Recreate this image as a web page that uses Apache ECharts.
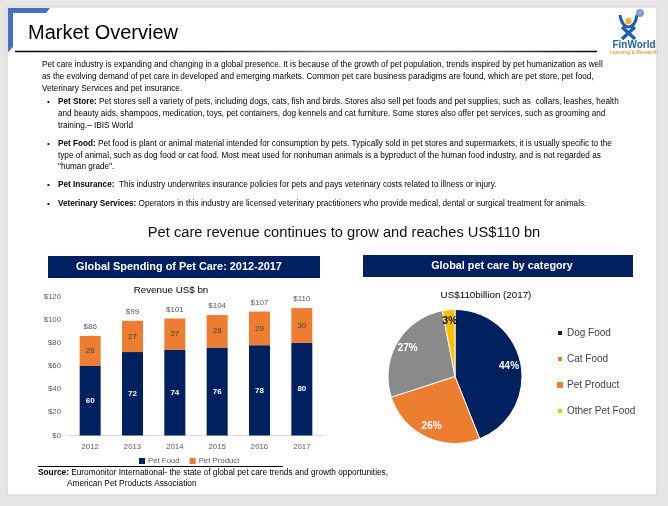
<!DOCTYPE html>
<html><head><meta charset="utf-8">
<script src="https://cdn.jsdelivr.net/npm/echarts@6/dist/echarts.min.js"></script>
<style>html,body{margin:0;padding:0;background:#e6e6e6;}#c{width:668px;height:506px;}</style>
</head><body><div id="c"></div>
<script>
// ---- data ----
const years = ['2012', '2013', '2014', '2015', '2016', '2017'];
const petFood = [60, 72, 74, 76, 78, 80];
const petProduct = [26, 27, 27, 28, 29, 30];
const totals = [86, 99, 101, 104, 107, 110];
const yMin = 0, yMax = 120, yStep = 20;
const pieCats = ['Dog Food', 'Cat Food', 'Pet Product', 'Other Pet Food'];
const pieShares = [44, 26, 27, 3];

const FONT = 'Liberation Sans';
const NAVY = '#002060', ORANGE = '#ED7D31', GRAY = '#8a8a8a', YELLOW = '#FFC000';
const pieColors = [NAVY, ORANGE, GRAY, YELLOW];
const pieLabelColors = ['#fff', '#fff', '#fff', '#000'];

const bodyLines = [
  [42, 65, 'Pet care industry is expanding and changing in a global presence. It is because of the growth of pet population, trends inspired by pet humanization as well'],
  [42, 77, 'as the evolving demand of pet care in developed and emerging markets. Common pet care business paradigms are found, which are pet store, pet food,'],
  [42, 89, 'Veterinary Services and pet insurance.'],
  [58, 102, '{b|Pet Store:} Pet stores sell a variety of pets, including dogs, cats, fish and birds. Stores also sell pet foods and pet supplies, such as  collars, leashes, health'],
  [58, 114, 'and beauty aids, shampoos, medication, toys, pet containers, dog kennels and cat furniture. Some stores also offer pet services, such as grooming and'],
  [58, 126, 'training.\u2013 IBIS World'],
  [58, 144, '{b|Pet Food:} Pet food is plant or animal material intended for consumption by pets. Typically sold in pet stores and supermarkets, it is usually specific to the'],
  [58, 155.5, 'type of animal, such as dog food or cat food. Most meat used for nonhuman animals is a byproduct of the human food industry, and is not regarded as'],
  [58, 167, '"human grade".'],
  [58, 185, '{b|Pet Insurance:}  This industry underwrites insurance policies for pets and pays veterinary costs related to illness or injury.'],
  [58, 204, '{b|Veterinary Services:} Operators in this industry are licensed veterinary practitioners who provide medical, dental or surgical treatment for animals.']
];
const bulletYs = [102, 144, 185, 204];

const FS = 8.2;
function txt(x, y, text, o) {
  o = o || {};
  return {
    type: 'text', x: x, y: y, silent: true, z: 10,
    style: Object.assign({
      text: text, fontFamily: FONT, fontSize: FS, fill: '#000',
      align: 'left', verticalAlign: 'middle',
      rich: { b: { fontWeight: 'bold', fontFamily: FONT, fontSize: o.fontSize || FS, fill: '#000' } }
    }, o)
  };
}

const graphics = [
  { type: 'rect', shape: { x: 7, y: 7, width: 650, height: 488 }, style: { fill: '#fff', stroke: '#cfcfcf', lineWidth: 1 }, z: -10, silent: true },
  { type: 'polygon', shape: { points: [[8, 8], [50, 8], [46, 13], [13, 13], [13, 47], [8, 52]] }, style: { fill: '#4A6FC0' }, silent: true },
  txt(28, 33, 'Market Overview', { fontSize: 20 }),
  { type: 'line', shape: { x1: 15, y1: 51.5, x2: 597, y2: 51.5 }, silent: true,
    style: { lineWidth: 1.5, stroke: { type: 'linear', x: 0, y: 0, x2: 1, y2: 0, colorStops: [
      { offset: 0, color: '#000' }, { offset: 0.35, color: '#222' }, { offset: 0.55, color: '#777' }, { offset: 0.8, color: '#555' }, { offset: 1, color: '#000' }] } } },
  // logo
  { type: 'bezierCurve', shape: { x1: 620, y1: 15, x2: 637, y2: 15, cpx1: 622, cpy1: 31, cpx2: 635, cpy2: 31 }, style: { stroke: '#1f5fb0', lineWidth: 3, fill: null }, silent: true },
  { type: 'circle', shape: { cx: 628.5, cy: 21, r: 3.2 }, style: { fill: '#F2B233' }, silent: true },
  { type: 'circle', shape: { cx: 640, cy: 13, r: 3.5 }, style: { fill: '#8fa7c9', stroke: '#5b7fb5', lineWidth: 0.8 }, silent: true },
  { type: 'line', shape: { x1: 622, y1: 27, x2: 635, y2: 39 }, style: { stroke: '#1f5fb0', lineWidth: 3.5 }, silent: true },
  { type: 'line', shape: { x1: 635, y1: 27, x2: 622, y2: 39 }, style: { stroke: '#1f5fb0', lineWidth: 3.5 }, silent: true },
  txt(634, 45, 'FinWorld', { fontSize: 10, fontWeight: 'bold', fill: '#2563AE', align: 'center' }),
  txt(634, 52.5, 'Learning & Research', { fontSize: 4.8, fontWeight: 'bold', fill: '#E8A33A', align: 'center' }),
  // headline
  txt(344, 233, 'Pet care revenue continues to grow and reaches US$110 bn', { fontSize: 14.7, align: 'center', fill: '#111' }),
  // banners
  { type: 'rect', shape: { x: 48, y: 256, width: 272, height: 22 }, style: { fill: NAVY }, silent: true },
  txt(179, 267, 'Global Spending of Pet Care: 2012-2017', { fontSize: 10.9, fontWeight: 'bold', fill: '#fff', align: 'center' }),
  { type: 'rect', shape: { x: 363, y: 255, width: 270, height: 22 }, style: { fill: NAVY }, silent: true },
  txt(502, 266, 'Global pet care by category', { fontSize: 10.8, fontWeight: 'bold', fill: '#fff', align: 'center' }),
  // chart titles
  txt(171, 290, 'Revenue US$ bn', { fontSize: 9.8, align: 'center', fill: '#000' }),
  txt(486, 295, 'US$110billion (2017)', { fontSize: 9.8, align: 'center', fill: '#000' }),
  // source
  { type: 'line', shape: { x1: 38, y1: 466.5, x2: 283, y2: 466.5 }, style: { stroke: '#000', lineWidth: 1 }, silent: true },
  txt(38, 473, '{b|Source:} Euromonitor International- the state of global pet care trends and growth opportunities,', { fontSize: 8.3 }),
  txt(67, 484, 'American Pet Products Association', { fontSize: 8.3 })
];
bodyLines.forEach(function (l) { graphics.push(txt(l[0], l[1], l[2])); });
bulletYs.forEach(function (y) { graphics.push(txt(47, y, '\u2022', { fontSize: 8 })); });

const chart = echarts.init(document.getElementById('c'), null, { renderer: 'canvas' });
chart.setOption({
  backgroundColor: '#e6e6e6',
  animation: false,
  textStyle: { fontFamily: FONT },
  graphic: graphics,
  grid: { left: 69, right: 345, top: 296.5, bottom: 70.5, containLabel: false },
  xAxis: {
    type: 'category', data: years,
    axisLine: { lineStyle: { color: '#d9d9d9' } }, axisTick: { show: false },
    axisLabel: { color: '#595959', fontSize: 7.8, margin: 7 }
  },
  yAxis: {
    type: 'value', min: yMin, max: yMax, interval: yStep,
    splitLine: { show: false }, axisLine: { show: false }, axisTick: { show: false },
    axisLabel: { color: '#595959', fontSize: 7.8, margin: 8, formatter: function (v) { return '$' + v; } }
  },
  legend: [
    { data: ['Pet Food', 'Pet Product'], left: 134, top: 452, itemWidth: 6, itemHeight: 6, icon: 'rect', itemGap: 10,
      textStyle: { fontSize: 7.8, color: '#595959', padding: [0, 0, 0, -2] } },
    { data: pieCats, orient: 'vertical', left: 551, top: 322, itemWidth: 6, itemHeight: 6, icon: 'rect', itemGap: 14,
      textStyle: { fontSize: 10, color: '#404040', lineHeight: 12, padding: [0, 0, 0, -1] } }
  ],
  series: [
    { name: 'Pet Food', type: 'bar', stack: 'rev', data: petFood, barWidth: 21, barGap: '-100%', itemStyle: { color: NAVY },
      label: { show: true, position: 'inside', color: '#fff', fontWeight: 'bold', fontSize: 8 } },
    { name: 'Pet Product', type: 'bar', stack: 'rev', data: petProduct, barWidth: 21, barGap: '-100%', itemStyle: { color: ORANGE },
      label: { show: true, position: 'inside', color: '#404040', fontSize: 8 } },
    { name: 'Total', type: 'bar', data: totals, barWidth: 21, barGap: '-100%', silent: true, z: 1,
      itemStyle: { color: 'rgba(0,0,0,0)' },
      label: { show: true, position: 'top', distance: 5, color: '#595959', fontSize: 8, formatter: function (p) { return '$' + p.value; } } },
    { name: 'Share', type: 'pie', center: [455, 376.5], radius: [0, 67], startAngle: 90, clockwise: true,
      data: pieCats.map(function (n, i) { return { name: n, value: pieShares[i], itemStyle: { color: pieColors[i] } }; }),
      itemStyle: { borderColor: '#fff', borderWidth: 1 }, label: { show: false }, labelLine: { show: false }, emphasis: { disabled: true } },
    { name: 'ShareLabels', type: 'pie', center: [455, 376.5], radius: [37, 67], startAngle: 90, clockwise: true, silent: true, z: 5,
      data: pieCats.map(function (n, i) { return { name: n, value: pieShares[i],
        itemStyle: { color: 'rgba(0,0,0,0)', borderWidth: 0 }, label: { color: pieLabelColors[i] } }; }),
      label: { show: true, position: 'inside', fontWeight: 'bold', fontSize: 10, formatter: function (p) { return p.value + '%'; } },
      labelLine: { show: false }, emphasis: { disabled: true } }
  ]
});
</script></body></html>
